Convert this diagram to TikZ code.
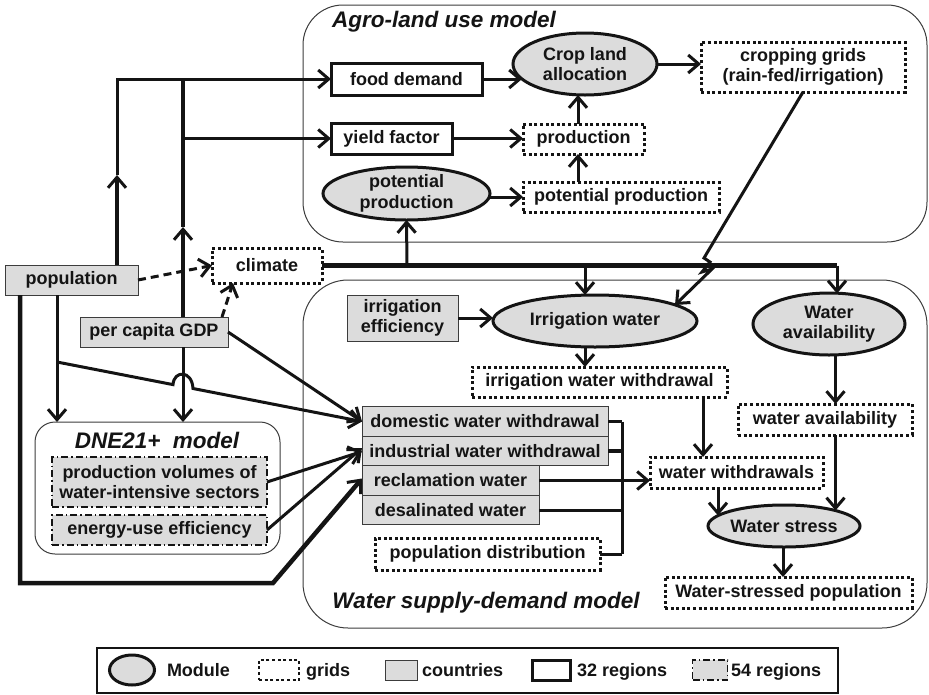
\documentclass[tikz,border=0pt]{standalone}
\usepackage{fontspec}
\setmainfont{Liberation Sans}
\usetikzlibrary{shapes.geometric,arrows.meta,calc}
\definecolor{boxgray}{RGB}{220,220,220}
\definecolor{ink}{RGB}{20,20,20}
\definecolor{frame}{RGB}{60,60,60}
\begin{document}
\begin{tikzpicture}[x=1pt,y=-1pt,
  font=\fontsize{18}{20.5}\selectfont\bfseries, text=ink,
  every node/.style={inner sep=0pt, outer sep=0pt, align=center},
  module/.style={ellipse, draw=ink, line width=3pt, fill=boxgray},
  grid/.style={rectangle, draw=ink, line width=3pt, dash pattern=on 3pt off 2.6pt, fill=white},
  country/.style={rectangle, draw=frame, line width=1pt, fill=boxgray},
  regthirtytwo/.style={rectangle, draw=ink, line width=3pt, fill=white},
  regfiftyfour/.style={rectangle, draw=ink, line width=1.5pt, dash pattern=on 7pt off 3pt on 1.5pt off 3pt, fill=boxgray},
  container/.style={rectangle, draw=frame, line width=1pt, fill=white},
  title/.style={font=\fontsize{22.5}{26}\selectfont\bfseries\itshape},
  legtext/.style={anchor=base west},
  tip/.style={-{Straight Barb[length=10.5pt,width=18pt,line width=3pt]}},
  conn/.style={draw=ink, line width=3pt, line join=miter, tip},
  plain/.style={draw=ink, line width=3pt},
  heavy/.style={draw=ink, line width=4pt},
  heavyconn/.style={draw=ink, line width=4.5pt, line join=miter, tip},
  dashconn/.style={draw=ink, line width=3pt, dash pattern=on 8pt off 5pt, tip},
]
\useasboundingbox (0,0) rectangle (929,694);

% ---------- containers ----------
\node[container, rounded corners=40pt, minimum width=624pt, minimum height=237pt] (agro) at (615,123.5) {};
\node[container, rounded corners=45pt, minimum width=624pt, minimum height=348pt] (water) at (615,454) {};
\node[container, rounded corners=20pt, minimum width=245pt, minimum height=132pt] (dne) at (157.5,488) {};

\node[title] (agrotitle) at (444,22) {Agro-land use model};
\node[title] (watertitle) at (486,603) {Water supply-demand model};
\node[title] (dnetitle) at (157,440) {DNE21+\ \ model};

% ---------- agro-land use nodes ----------
\node[regthirtytwo, minimum width=151pt, minimum height=32pt] (fooddemand) at (406.5,79) {food demand};
\node[regthirtytwo, minimum width=121pt, minimum height=31pt] (yield) at (391.5,138.5) {yield factor};
\node[module, minimum width=167pt, minimum height=53pt] (potprodE) at (406.5,193.5) {potential\\production};
\node[module, minimum width=144pt, minimum height=62pt] (cropE) at (585,64) {Crop land\\allocation};
\node[grid, minimum width=204pt, minimum height=50pt] (cropgrids) at (803,67) {cropping grids\\(rain-fed/irrigation)};
\node[grid, minimum width=121pt, minimum height=30pt] (production) at (583.5,139) {production};
\node[grid, minimum width=196pt, minimum height=30pt] (potprodB) at (621,197) {potential production};

% ---------- drivers ----------
\node[grid, minimum width=110pt, minimum height=35pt] (climate) at (267,265.5) {climate};
\node[country, minimum width=133pt, minimum height=30pt] (population) at (71.5,280) {population};
\node[country, minimum width=148pt, minimum height=30pt] (gdp) at (154,332) {per capita GDP};

% ---------- water supply-demand nodes ----------
\node[country, minimum width=111pt, minimum height=46pt] (irrEff) at (402.5,318) {irrigation\\efficiency};
\node[module, minimum width=204pt, minimum height=52pt] (irrW) at (595,321) {Irrigation water};
\node[module, minimum width=152pt, minimum height=62pt] (waterAvE) at (829,324) {Water\\availability};
\node[grid, minimum width=255pt, minimum height=30pt] (irrWW) at (599.5,382) {irrigation water withdrawal};
\node[grid, minimum width=174pt, minimum height=31pt] (waterAvB) at (825,419.5) {water availability};
\node[country, minimum width=246pt, minimum height=29.5pt] (domestic) at (485,421.5) {domestic water withdrawal};
\node[country, minimum width=246pt, minimum height=29.5pt] (industrial) at (485,451) {industrial water withdrawal};
\node[country, minimum width=177pt, minimum height=29.5pt] (reclamation) at (450.5,480.5) {reclamation water};
\node[country, minimum width=177pt, minimum height=29.5pt] (desal) at (450.5,510) {desalinated water};
\node[grid, minimum width=225pt, minimum height=32pt] (popdist) at (487.5,554) {population distribution};
\node[grid, minimum width=173pt, minimum height=31pt] (waterWD) at (736.5,472.5) {water withdrawals};
\node[module, minimum width=152pt, minimum height=42pt] (stressE) at (784,526) {Water stress};
\node[grid, minimum width=247pt, minimum height=31pt] (wsp) at (788.5,592.5) {Water-stressed population};

% ---------- DNE21+ nodes ----------
\node[regfiftyfour, minimum width=215pt, minimum height=50pt] (prodvol) at (159.5,482) {production volumes of\\water-intensive sectors};
\node[regfiftyfour, minimum width=215pt, minimum height=30pt] (energy) at (159.5,530) {energy-use efficiency};

% ---------- connectors: population / GDP ----------
\coordinate (popMid) at (117,175);
\coordinate (popTurn) at (117,79);
\draw[heavyconn] ([xshift=45.5pt]population.north) -- (popMid);
\draw[conn] (popMid) -- (popTurn) -- (fooddemand.west);
\coordinate (gdpMid) at (183,227);
\coordinate (gdpTop) at (183,79);
\coordinate (yieldJ) at (183,138.5);
\draw[heavyconn] ([xshift=29pt]gdp.north) -- (gdpMid);
\draw[heavy] (gdpMid) -- (gdpTop);
\draw[conn] (yieldJ) -- (yield.west);

\draw[dashconn] (population.east) -- (climate.west);
\draw[dashconn] ([xshift=68pt]gdp.north) -- ([xshift=-34pt]climate.south);

% climate line
\coordinate (climEnd) at (837,265.5);
\coordinate (climA) at (407,265.5);
\coordinate (climB) at (585,265.5);
\draw[draw=ink, line width=5pt] (climate.east) -- (climEnd);
\draw[conn] (climA) -- (potprodE.south);
\draw[conn] (climB) -- (irrW.north -| climB);
\draw[conn] (climEnd) -- ($(waterAvE.center)+(8,-30.5)$);

% ---------- agro connectors ----------
\draw[conn] (fooddemand.east) -- ($(cropE.center)+(-63,15)$);
\draw[conn] (yield.east) -- (yield.east -| production.west);
\draw[conn] (potprodB.west -| potprodE.east) -- (potprodB.west);
\coordinate (prodX) at (578,0);
\draw[conn] (potprodB.north -| prodX) -- (production.south -| prodX);
\draw[conn] (production.north -| prodX) -- (cropE.south -| prodX);
\draw[conn] (cropE.east) -- (cropE.east -| cropgrids.west);
\draw[conn] (cropgrids.south) -- (704,258) -- (710,262) -- (702,272) -- (712,269) -- ($(irrW.center)+(80,-16)$);

% ---------- water connectors ----------
\draw[conn] (irrEff.east) -- (irrEff.east -| irrW.west);
\coordinate (irrX) at (585,0);
\draw[conn] (irrW.south -| irrX) -- (irrWW.north -| irrX);
\coordinate (wdX) at (703,0);
\draw[conn] (irrWW.south -| wdX) -- (waterWD.north -| wdX);
\coordinate (avX) at (835.5,0);
\draw[conn] (waterAvE.south -| avX) -- (waterAvB.north -| avX);
\draw[conn] (waterAvB.south -| avX) -- ($(stressE.center)+(51.5,-15.5)$);
\coordinate (stX) at (718,0);
\draw[conn] (waterWD.south -| stX) -- ($(stressE.center)+(-66,-10.5)$);
\coordinate (wsX) at (783,0);
\draw[conn] (stressE.south -| wsX) -- (wsp.north -| wsX);
\draw[conn] (reclamation.east) -- (reclamation.east -| waterWD.west);

% bus
\coordinate (busTop) at (622,421.5);
\coordinate (busBot) at (622,554);
\draw[plain, line width=3.5pt] (domestic.east) -- (busTop);
\draw[plain, line width=3.5pt] (industrial.east) -- (industrial.east -| busTop);
\draw[plain] (desal.east) -- (desal.east -| busTop);
\draw[plain] (popdist.east) -- (busBot);
\draw[plain] (busTop) -- (busBot);

% inputs to water demand
\draw[conn] (gdp.east) -- (domestic.west);
\coordinate (popJ) at (57,362);
\draw[conn] (popJ) -- (173,384.6) .. controls (174,370) and (192,370) .. (193,388.5) -- (domestic.west);
\draw[conn] ([xshift=-14.5pt]population.south) -- (dne.north -| popJ);
\coordinate (gdpX) at (183,0);
\draw[conn] ([xshift=29pt]gdp.south) -- (dne.north -| gdpX);
\draw[heavyconn] ([xshift=-51.5pt]population.south) -- (20,583) -- (273,583) -- ([yshift=2pt]reclamation.west);
\draw[conn] (prodvol.east) -- ([yshift=-0.5pt]industrial.west);
\draw[conn] (energy.east) -- ([yshift=3pt]industrial.west);

% ---------- legend ----------
\node[draw=ink, line width=2pt, minimum width=741pt, minimum height=45pt] (legend) at (467.5,670.5) {};
\node[module, minimum width=45pt, minimum height=30pt] (lgModule) at (132,670) {};
\node[legtext] (lgModuleT) at (167,676.5) {Module};
\node[grid, line width=2.5pt, minimum width=40pt, minimum height=20pt] (lgGrid) at (279,670) {};
\node[legtext] (lgGridT) at (306,676.5) {grids};
\node[country, minimum width=32pt, minimum height=20pt] (lgCountry) at (401,670) {};
\node[legtext] (lgCountryT) at (422,676.5) {countries};
\node[regthirtytwo, minimum width=38pt, minimum height=20pt] (lgReg32) at (551,670) {};
\node[legtext] (lgReg32T) at (577,676.5) {32 regions};
\node[regfiftyfour, minimum width=35pt, minimum height=20pt] (lgReg54) at (710,670) {};
\node[legtext] (lgReg54T) at (731,676.5) {54 regions};
\end{tikzpicture}
\end{document}
